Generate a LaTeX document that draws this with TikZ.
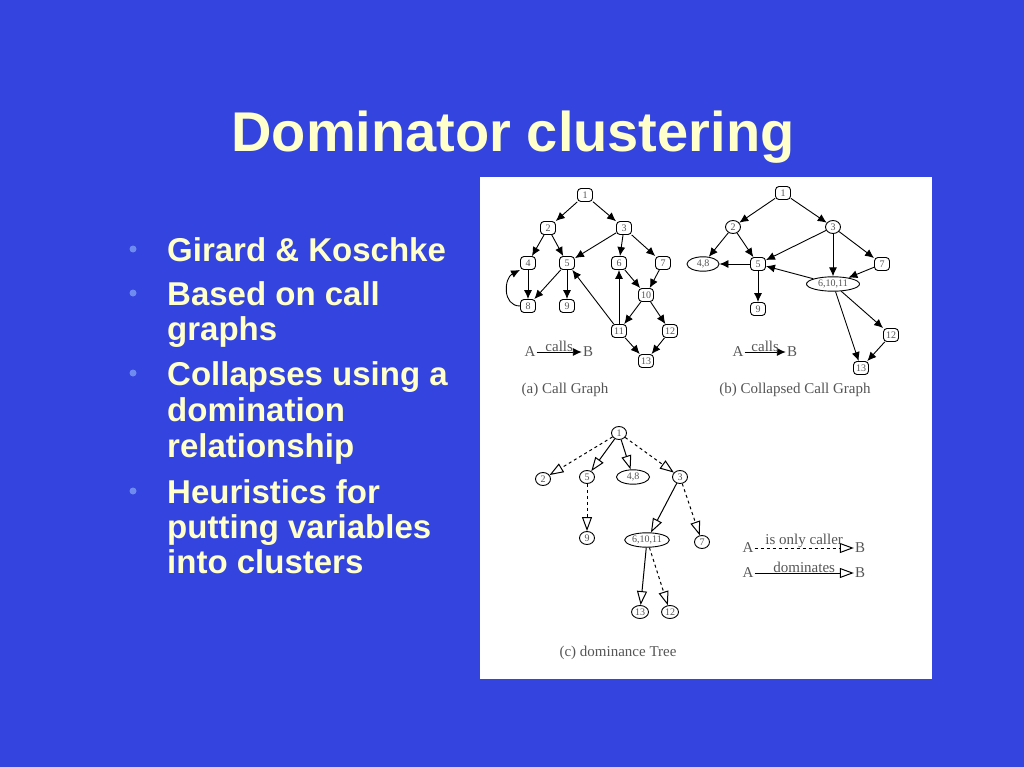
\documentclass[tikz,border=0pt]{standalone}
\usepackage{fontspec}
\setmainfont{Liberation Sans}
\newfontfamily\panelfont{Liberation Serif}
\usepackage{tikz}
\usetikzlibrary{arrows.meta, shapes.geometric}
\definecolor{slideblue}{RGB}{52,68,222}
\definecolor{titleyellow}{RGB}{255,255,204}
\definecolor{bulletblue}{RGB}{110,140,240}
\definecolor{inkgray}{RGB}{85,85,85}

\begin{document}
\begin{tikzpicture}[x=1pt, y=-1pt, every node/.style={inner sep=1pt},
  nd/.style={draw, rounded corners=3.5pt, line width=0.9pt, minimum width=15pt, minimum height=13pt,
    text=inkgray, font=\panelfont\fontsize{10}{10}\selectfont},
  grp/.style={nd, ellipse, rounded corners=0pt},
  call/.style={-{Latex[length=9pt,width=8pt]}, line width=0.9pt},
  dom/.style={-{Triangle[open,length=14pt,width=10pt]}, line width=1pt},
  only/.style={dom, dashed},
  lbl/.style={text=inkgray, font=\panelfont\fontsize{15}{15}\selectfont},
  dot/.style={circle, fill=bulletblue, inner sep=0pt, minimum size=7pt},
  txt/.style={anchor=base west, inner sep=0pt, text=titleyellow, font=\fontsize{33}{36}\selectfont\bfseries}]
  \useasboundingbox (0,0) rectangle (1024,767);
  \fill[slideblue] (0,0) rectangle (1024,767);

  % Title
  \node[anchor=base, text=titleyellow, font=\fontsize{56}{60}\selectfont\bfseries] (title) at (513,152) {Dominator clustering};

  % Bullets
  \foreach \n/\y in {1/249, 2/293, 3/373, 4/491}
    \node[dot] (d\n) at (133,\y) {};
  \foreach \n/\y/\t in {1/261/Girard \& Koschke, 2/305/Based on call, 3/340/graphs,
      4/385/Collapses using a, 5/421/domination, 6/457/relationship,
      7/503/Heuristics for, 8/538/putting variables, 9/573/into clusters}
    \node[txt] (l\n) at (167,\y) {\t};

  % White panel
  \fill[white] (480,177) rectangle (932,679);

  % (a) Call graph
  \node[nd] (a1) at (585,195) {1};
  \node[nd] (a2) at (548,228) {2};
  \node[nd] (a3) at (624,228) {3};
  \node[nd] (a4) at (528,263) {4};
  \node[nd] (a5) at (567,263) {5};
  \node[nd] (a6) at (619,263) {6};
  \node[nd] (a7) at (663,263) {7};
  \node[nd] (a8) at (528,306) {8};
  \node[nd] (a9) at (567,306) {9};
  \node[nd] (a10) at (646,295) {10};
  \node[nd] (a11) at (619,331) {11};
  \node[nd] (a12) at (670,331) {12};
  \node[nd] (a13) at (646,361) {13};
  \draw[call] (a1) -- (a2);
  \draw[call] (a1) -- (a3);
  \draw[call] (a2) -- (a4);
  \draw[call] (a2) -- (a5);
  \draw[call] (a3) -- (a5);
  \draw[call] (a3) -- (a6);
  \draw[call] (a3) -- (a7);
  \draw[call] (a4) -- (a8);
  \draw[call] (a8.west) .. controls +(-18,0) and +(-16,8) .. (a4.south west);
  \draw[call] (a5) -- (a8);
  \draw[call] (a5) -- (a9);
  \draw[call] (a11) -- (a5);
  \draw[call] (a6) -- (a10);
  \draw[call] (a7) -- (a10);
  \draw[call] (a10) -- (a11);
  \draw[call] (a10) -- (a12);
  \draw[call] (a11) -- (a6);
  \draw[call] (a11) -- (a13);
  \draw[call] (a12) -- (a13);
  \node[lbl] (aA) at (530,352) {A};
  \node[lbl] (aB) at (588,352) {B};
  \draw[call] (aA) -- node[lbl, above, inner sep=0pt] {calls} (aB);
  \node[lbl] (acap) at (565,390) {(a) Call Graph};

  % (b) Collapsed call graph
  \node[nd] (b1) at (783,193) {1};
  \node[grp] (b2) at (733,227) {2};
  \node[grp] (b3) at (833,227) {3};
  \node[grp, minimum width=32pt] (b48) at (703,264) {4,8};
  \node[nd] (b5) at (758,264) {5};
  \node[nd] (b7) at (882,264) {7};
  \node[grp, minimum width=53pt] (b61011) at (833,284) {6,10,11};
  \node[nd] (b9) at (758,309) {9};
  \node[nd] (b12) at (891,335) {12};
  \node[nd] (b13) at (861,368) {13};
  \draw[call] (b1) -- (b2);
  \draw[call] (b1) -- (b3);
  \draw[call] (b2) -- (b48);
  \draw[call] (b2) -- (b5);
  \draw[call] (b3) -- (b5);
  \draw[call] (b3) -- (b61011);
  \draw[call] (b3) -- (b7);
  \draw[call] (b5) -- (b48);
  \draw[call] (b5) -- (b9);
  \draw[call] (b7) -- (b61011);
  \draw[call] (b61011) -- (b5);
  \draw[call] (b61011) -- (b12);
  \draw[call] (b61011) -- (b13);
  \draw[call] (b12) -- (b13);
  \node[lbl] (bA) at (738,352) {A};
  \node[lbl] (bB) at (792,352) {B};
  \draw[call] (bA) -- node[lbl, above, inner sep=0pt] {calls} (bB);
  \node[lbl] (bcap) at (795,390) {(b) Collapsed Call Graph};

  % (c) dominance tree
  \node[grp] (c1) at (619,433) {1};
  \node[grp] (c2) at (543,479) {2};
  \node[grp] (c5) at (587,477) {5};
  \node[grp, minimum width=33pt] (c48) at (633,477) {4,8};
  \node[grp] (c3) at (680,477) {3};
  \node[grp] (c9) at (587,538) {9};
  \node[grp, minimum width=42pt] (c61011) at (647,540) {6,10,11};
  \node[grp] (c7) at (702,542) {7};
  \node[grp] (c13) at (640,612) {13};
  \node[grp] (c12) at (670,612) {12};
  \draw[only] (c1) -- (c2);
  \draw[dom] (c1) -- (c5);
  \draw[dom] (c1) -- (c48);
  \draw[only] (c1) -- (c3);
  \draw[only] (c5) -- (c9);
  \draw[dom] (c3) -- (c61011);
  \draw[only] (c3) -- (c7);
  \draw[dom] (c61011) -- (c13);
  \draw[only] (c61011) -- (c12);
  \node[lbl] (cA1) at (748,548) {A};
  \node[lbl] (cB1) at (860,548) {B};
  \draw[only] (cA1) -- node[lbl, above, inner sep=0pt] {is only caller} (cB1);
  \node[lbl] (cA2) at (748,573) {A};
  \node[lbl] (cB2) at (860,573) {B};
  \draw[dom] (cA2) -- node[lbl, above, inner sep=0pt] {dominates} (cB2);
  \node[lbl] (ccap) at (618,653) {(c) dominance Tree};
\end{tikzpicture}
\end{document}
